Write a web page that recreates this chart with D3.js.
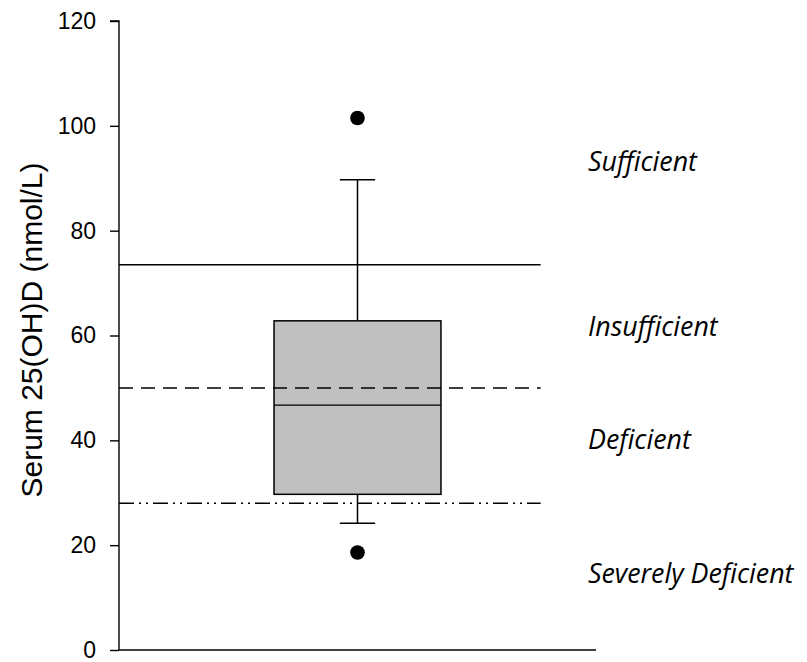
<!DOCTYPE html>
<html>
<head>
<meta charset="utf-8">
<script src="https://cdn.jsdelivr.net/npm/d3@7"></script>
<style>
  html, body { margin: 0; padding: 0; background: #fff; }
  svg { display: block; }
</style>
</head>
<body>
<svg id="chart" width="807" height="662"></svg>
<script>
// values (nmol/L)
const yTicks = [0, 20, 40, 60, 80, 100, 120];
const boxStats = { low: 24.2, q1: 29.7, median: 46.7, q3: 62.8, high: 89.7 };
const outliers = [101.5, 18.6];
const cutoffs = [73.5, 50, 28];
const cutoffDash = [null, '14,8', '15,5,2,5,2,5'];
const zoneNames = ['Sufficient', 'Insufficient', 'Deficient', 'Severely Deficient'];
const zoneLabelY = [91.4, 59.9, 38.3, 12.8]; // baseline of each label

const svg = d3.select('#chart');
const x = d3.scaleLinear().domain([0, 1]).range([119, 596]);
const y = d3.scaleLinear().domain([0, 120]).range([650, 21]);

// y axis
const yAxis = d3.axisLeft(y).tickValues(yTicks).tickSize(9).tickPadding(14);
const gy = svg.append('g').attr('transform', `translate(${x(0)},0)`).call(yAxis);
gy.select('.domain').attr('stroke', '#000').attr('stroke-width', 1.4).attr('d', `M-9,${y(120)}H0V${y(0)}`);
gy.selectAll('.tick line').attr('stroke', '#000').attr('stroke-width', 1.4);
gy.selectAll('.tick text')
  .attr('font-family', 'Liberation Sans, Arial, sans-serif')
  .attr('font-size', 23)
  .attr('fill', '#000');

// x axis line only
svg.append('line')
  .attr('x1', x(0)).attr('x2', x(1))
  .attr('y1', y(0)).attr('y2', y(0))
  .attr('stroke', '#000').attr('stroke-width', 1.4);

svg.append('text')
  .attr('transform', 'translate(42,330) rotate(-90)')
  .attr('text-anchor', 'middle')
  .attr('font-family', 'Liberation Sans, Arial, sans-serif')
  .attr('font-size', 30)
  .text('Serum 25(OH)D (nmol/L)');

const cx = x(0.5);
const halfBox = x(0.175) - x(0);
const halfCap = x(0.037) - x(0);

// whiskers
const whisk = svg.append('g').attr('stroke', '#000').attr('stroke-width', 1.5);
whisk.append('line').attr('x1', cx).attr('x2', cx).attr('y1', y(boxStats.high)).attr('y2', y(boxStats.q3));
whisk.append('line').attr('x1', cx).attr('x2', cx).attr('y1', y(boxStats.low)).attr('y2', y(boxStats.q1));
whisk.selectAll('line.cap')
  .data([boxStats.high, boxStats.low])
  .join('line').attr('class', 'cap')
  .attr('x1', cx - halfCap).attr('x2', cx + halfCap)
  .attr('y1', d => y(d)).attr('y2', d => y(d));

// box
svg.append('rect')
  .attr('x', cx - halfBox).attr('width', 2 * halfBox)
  .attr('y', y(boxStats.q3)).attr('height', y(boxStats.q1) - y(boxStats.q3))
  .attr('fill', '#c0c0c0').attr('stroke', '#000').attr('stroke-width', 1.5);
svg.append('line')
  .attr('x1', cx - halfBox).attr('x2', cx + halfBox)
  .attr('y1', y(boxStats.median)).attr('y2', y(boxStats.median))
  .attr('stroke', '#000').attr('stroke-width', 1.3);

// cut-off lines
svg.selectAll('line.cutoff')
  .data(cutoffs)
  .join('line').attr('class', 'cutoff')
  .attr('x1', x(0)).attr('x2', x(0.884))
  .attr('y1', d => y(d)).attr('y2', d => y(d))
  .attr('stroke', '#000').attr('stroke-width', 1.5)
  .attr('stroke-dasharray', (d, i) => cutoffDash[i]);

// outliers
svg.selectAll('circle.out')
  .data(outliers)
  .join('circle').attr('class', 'out')
  .attr('cx', cx).attr('cy', d => y(d)).attr('r', 7.3)
  .attr('fill', '#000');

// zone labels
svg.selectAll('text.zone')
  .data(zoneNames)
  .join('text').attr('class', 'zone')
  .attr('x', 588)
  .attr('y', (d, i) => y(zoneLabelY[i]))
  .attr('font-family', 'Open Sans, sans-serif')
  .attr('font-style', 'italic')
  .attr('font-size', 26.8)
  .text(d => d);
</script>
</body>
</html>
